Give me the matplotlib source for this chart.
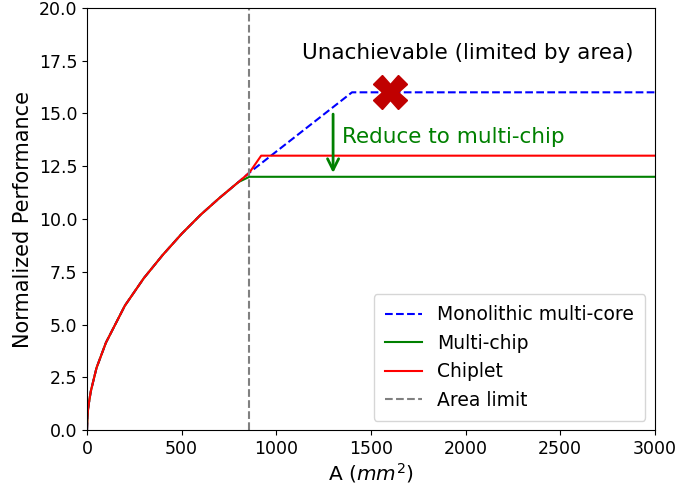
import matplotlib
matplotlib.use("Agg")
import matplotlib.pyplot as plt

# Data
A_curve = [0, 2, 5, 10, 20, 50, 100, 200, 300, 400, 500, 600, 700, 800, 858]
P_curve = [0, 0.6, 0.95, 1.3, 1.85, 2.95, 4.15, 5.9, 7.2, 8.3, 9.3, 10.2, 11.0, 11.75, 12.2]
A_mono_ext = [858, 1400, 3000]
P_mono_ext = [12.2, 16.0, 16.0]
A_multi_ext = [858, 3000]
P_multi_ext = [12.0, 12.0]
A_chiplet_ext = [858, 920, 3000]
P_chiplet_ext = [12.2, 13.0, 13.0]
area_limit = 858

fig = plt.figure(figsize=(6.8, 4.9), dpi=100)
ax = fig.add_axes([0.128, 0.122, 0.835, 0.862])

ax.plot(A_curve + A_mono_ext[1:], P_curve + P_mono_ext[1:], '--', color='blue', label='Monolithic multi-core')
ax.plot(A_curve + A_multi_ext[1:], P_curve[:-1] + P_multi_ext, color='green', label='Multi-chip')
ax.plot(A_curve + A_chiplet_ext[1:], P_curve + P_chiplet_ext[1:], color='red', label='Chiplet')
ax.axvline(area_limit, ls='--', color='gray', label='Area limit')

ax.plot(1600, 16.0, marker='X', color='#c00000', markersize=24, markeredgecolor='#c00000', zorder=5)
ax.annotate('', xy=(1300, 12.05), xytext=(1300, 15.1),
            arrowprops=dict(arrowstyle='->', color='green', lw=2, mutation_scale=20))
ax.text(1345, 13.9, 'Reduce to multi-chip', color='green', fontsize=15.5, va='center')
ax.text(2010, 17.85, 'Unachievable (limited by area)', color='black', fontsize=15.5, ha='center', va='center')

ax.set_xlim(0, 3000)
ax.set_ylim(0, 20)
ax.set_yticks([0, 2.5, 5, 7.5, 10, 12.5, 15, 17.5, 20])
ax.tick_params(labelsize=12.5)
ax.set_xlabel('A ($mm^2$)', fontsize=14.5, labelpad=2)
ax.set_ylabel('Normalized Performance', fontsize=15)
ax.legend(loc='lower right', fontsize=13.5, borderpad=0.6)
fig.savefig('out.png')
